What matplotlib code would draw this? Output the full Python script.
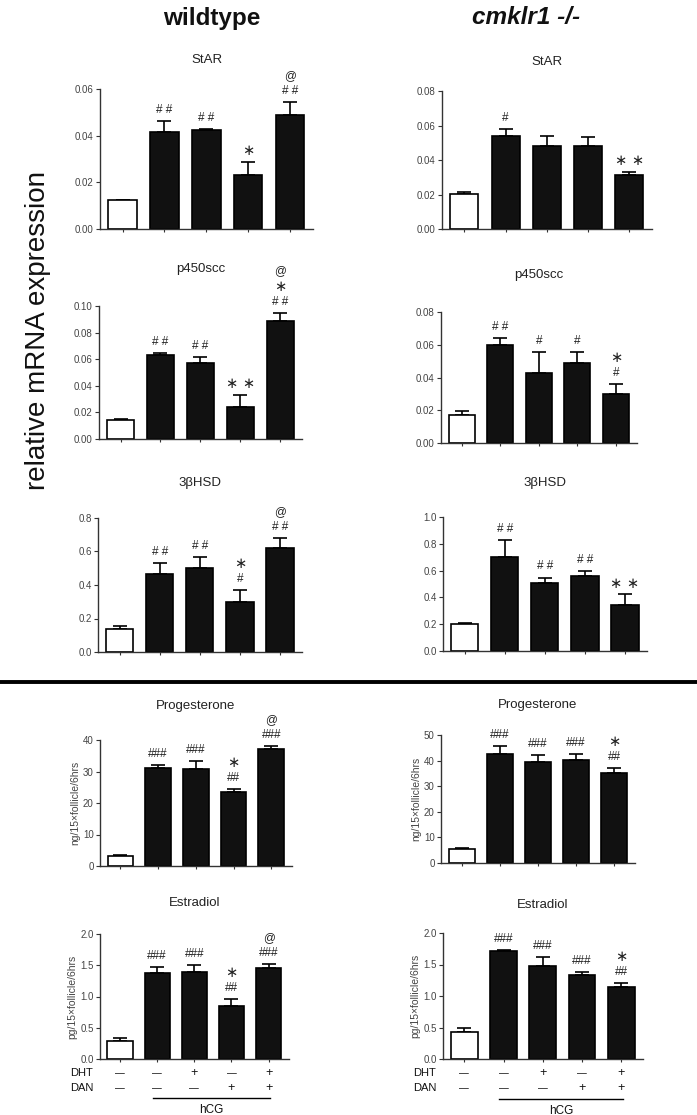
import numpy as np
import matplotlib.pyplot as plt
from matplotlib.lines import Line2D

plt.rcParams['font.family'] = ['Liberation Sans', 'DejaVu Sans']

W, H = 697, 1115

# bar means and sem (ctrl, hCG, hCG+DHT, hCG+DAN, hCG+DHT+DAN)
wt_star = [0.0124, 0.0414, 0.0426, 0.0231, 0.0487]
wt_star_err = [0.0002, 0.0050, 0.0004, 0.0058, 0.0056]
ko_star = [0.0204, 0.0537, 0.0480, 0.0483, 0.0313]
ko_star_err = [0.0009, 0.0040, 0.0058, 0.0052, 0.0020]

wt_p450 = [0.0145, 0.0630, 0.0568, 0.0238, 0.0888]
wt_p450_err = [0.0005, 0.0013, 0.0050, 0.0092, 0.0060]
ko_p450 = [0.0169, 0.0599, 0.0428, 0.0490, 0.0297]
ko_p450_err = [0.0024, 0.0042, 0.0126, 0.0068, 0.0063]

wt_hsd = [0.136, 0.465, 0.501, 0.301, 0.623]
wt_hsd_err = [0.020, 0.068, 0.068, 0.068, 0.056]
ko_hsd = [0.201, 0.702, 0.504, 0.556, 0.345]
ko_hsd_err = [0.010, 0.124, 0.044, 0.040, 0.079]

wt_prog = [3.2, 31.2, 30.9, 23.4, 37.1]
wt_prog_err = [0.3, 0.8, 2.5, 1.0, 1.0]
ko_prog = [5.5, 42.6, 39.5, 40.3, 35.3]
ko_prog_err = [0.4, 3.1, 2.7, 2.3, 1.8]

wt_e2 = [0.282, 1.378, 1.388, 0.851, 1.452]
wt_e2_err = [0.058, 0.095, 0.112, 0.112, 0.064]
ko_e2 = [0.429, 1.709, 1.481, 1.328, 1.143]
ko_e2_err = [0.058, 0.026, 0.138, 0.048, 0.058]

# significance marks per bar, bottom to top
wt_star_sig = [[], ['##'], ['##'], ['*'], ['##', '@']]
ko_star_sig = [[], ['#'], [], [], ['**']]
wt_p450_sig = [[], ['##'], ['##'], ['**'], ['##', '*', '@']]
ko_p450_sig = [[], ['##'], ['#'], ['#'], ['#', '*']]
wt_hsd_sig = [[], ['##'], ['##'], ['#', '*'], ['##', '@']]
ko_hsd_sig = [[], ['##'], ['##'], ['##'], ['**']]
wt_prog_sig = [[], ['###'], ['###'], ['##', '*'], ['###', '@']]
ko_prog_sig = [[], ['###'], ['###'], ['###'], ['##', '*']]
wt_e2_sig = [[], ['###'], ['###'], ['##', '*'], ['###', '@']]
ko_e2_sig = [[], ['###'], ['###'], ['###'], ['##', '*']]

dht = ['—', '—', '+', '—', '+']
dan = ['—', '—', '—', '+', '+']

hormone_ylab_p = 'ng/15\u00d7follicle/6hrs'
hormone_ylab_e = 'pg/15\u00d7follicle/6hrs'

fig = plt.figure(figsize=(W / 100, H / 100), dpi=100)


def box(x0, y0, x1, y1):
    return fig.add_axes([x0 / W, 1 - y1 / H, (x1 - x0) / W, (y1 - y0) / H])


def panel(rect, title_y, vals, errs, sigs, title, ymax, step, fmt, spaced=True, ylab=None):
    ax = box(*rect)
    x = np.arange(len(vals))
    colors = ['white'] + ['#111111'] * (len(vals) - 1)
    ax.bar(x, vals, width=0.68, color=colors, edgecolor='black', linewidth=1.2, zorder=2)
    ax.errorbar(x, vals, yerr=[np.zeros(len(vals)), errs], fmt='none', ecolor='black',
                elinewidth=1.2, capsize=5, capthick=1.2, zorder=1)
    ax.set_xlim(-0.54, 4.55)
    ax.set_ylim(0, ymax)
    ax.set_yticks(np.arange(0, ymax + step / 2, step))
    ax.yaxis.set_major_formatter(plt.FormatStrFormatter(fmt))
    ax.set_xticks(x)
    ax.set_xticklabels([])
    for s in ['top', 'right']:
        ax.spines[s].set_visible(False)
    for s in ['left', 'bottom']:
        ax.spines[s].set_color('#333333')
        ax.spines[s].set_linewidth(1.0)
    ax.tick_params(axis='y', labelsize=7, colors='#333333', labelcolor='#444444', length=3, width=0.8, pad=1.5)
    ax.tick_params(axis='x', length=2.5, width=0.8, colors='#333333')
    fig.text((rect[0] + rect[2]) / 2 / W, 1 - title_y / H, title, fontsize=9.5, color='#222222',
             ha='center', va='center')
    for i in range(len(vals)):
        off = 8
        top = vals[i] + errs[i]
        for s in sigs[i]:
            if '#' in s:
                txt = ' '.join(s) if spaced else s
                ax.annotate(txt, (x[i], top), xytext=(0, off), textcoords='offset points',
                            ha='center', va='center', fontsize=8.5, color='#222222')
            elif '*' in s:
                ax.annotate(' '.join('\u2217' * len(s)), (x[i], top), xytext=(0, off),
                            textcoords='offset points', ha='center', va='center', fontsize=10.5,
                            color='#222222', family='DejaVu Sans')
            else:
                ax.annotate(s, (x[i], top), xytext=(0, off), textcoords='offset points',
                            ha='center', va='center', fontsize=8.5, color='#222222')
            off += 11
    if ylab:
        ax.set_ylabel(ylab, fontsize=7.5, color='#444444', labelpad=2)
    return ax


def treatments(ax, xlab):
    tr = ax.get_xaxis_transform()
    tra = ax.transAxes
    ax.text(xlab, -0.112, 'DHT', transform=tra, fontsize=8, color='#111111', ha='left', va='center')
    ax.text(xlab, -0.232, 'DAN', transform=tra, fontsize=8, color='#111111', ha='left', va='center')
    for i in range(5):
        ax.text(i, -0.112, dht[i], transform=tr, fontsize=7 if dht[i] == '—' else 9,
                ha='center', va='center', color='#111111')
        ax.text(i, -0.232, dan[i], transform=tr, fontsize=7 if dan[i] == '—' else 9,
                ha='center', va='center', color='#111111')
    ax.plot([0.88, 4.05], [-0.315, -0.315], transform=tr, color='black', lw=1.0, clip_on=False)
    ax.text(2.47, -0.41, 'hCG', transform=tr, fontsize=8.5, ha='center', va='center', color='#111111')


panel((100, 89, 313, 229), 60, wt_star, wt_star_err, wt_star_sig, 'StAR', 0.06, 0.02, '%.2f')
panel((442, 91, 652, 229), 62, ko_star, ko_star_err, ko_star_sig, 'StAR', 0.08, 0.02, '%.2f')
panel((99, 306, 302, 439), 269, wt_p450, wt_p450_err, wt_p450_sig, 'p450scc', 0.10, 0.02, '%.2f')
panel((441, 312, 637, 443), 275, ko_p450, ko_p450_err, ko_p450_sig, 'p450scc', 0.08, 0.02, '%.2f')
panel((98, 518, 302, 652), 483, wt_hsd, wt_hsd_err, wt_hsd_sig, '3\u03b2HSD', 0.8, 0.2, '%.1f')
panel((443, 517, 647, 651), 483, ko_hsd, ko_hsd_err, ko_hsd_sig, '3\u03b2HSD', 1.0, 0.2, '%.1f')
panel((100, 740, 292, 866), 706, wt_prog, wt_prog_err, wt_prog_sig, 'Progesterone', 40, 10, '%d', False,
      hormone_ylab_p)
panel((441, 735, 635, 863), 705, ko_prog, ko_prog_err, ko_prog_sig, 'Progesterone', 50, 10, '%d', False,
      hormone_ylab_p)
a1 = panel((100, 934, 289, 1059), 903, wt_e2, wt_e2_err, wt_e2_sig, 'Estradiol', 2.0, 0.5, '%.1f', False,
           hormone_ylab_e)
a2 = panel((443, 933, 643, 1059), 905, ko_e2, ko_e2_err, ko_e2_sig, 'Estradiol', 2.0, 0.5, '%.1f', False,
           hormone_ylab_e)
treatments(a1, -0.16)
treatments(a2, -0.15)

fig.text(212 / W, 1 - 18 / H, 'wildtype', fontsize=17.5, fontweight='bold', ha='center', va='center',
         color='#111111')
fig.text(526 / W, 1 - 18 / H, 'cmklr1 -/-', fontsize=17.5, fontweight='bold', style='italic',
         ha='center', va='center', color='#111111')
fig.text(38 / W, 1 - 330 / H, 'relative mRNA expression', fontsize=20, rotation=90,
         ha='center', va='center', color='#111111')
fig.add_artist(Line2D([0, 1], [1 - 682 / H, 1 - 682 / H], color='black', lw=2.8))

fig.savefig('out.png', dpi=100)
